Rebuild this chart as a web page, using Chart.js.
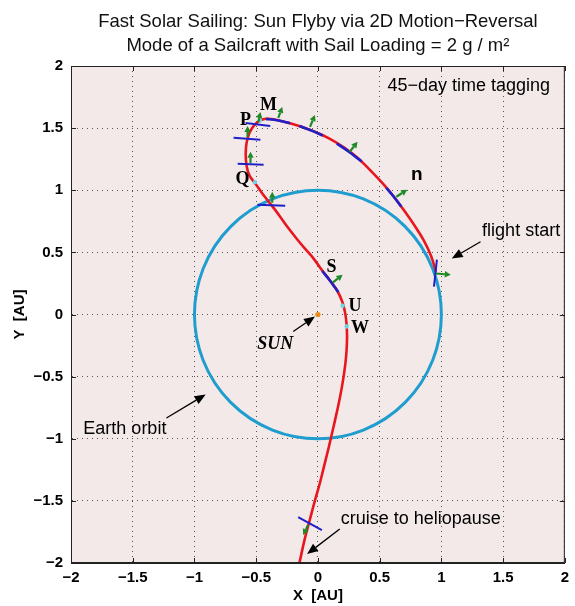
<!DOCTYPE html>
<html>
<head>
<meta charset="utf-8">
<script src="https://cdn.jsdelivr.net/npm/chart.js@4.4.0/dist/chart.umd.min.js"></script>
<style>
  html, body { margin: 0; padding: 0; background: #fff; }
  #wrap { position: relative; width: 575px; height: 606px; }
</style>
</head>
<body>
<div id="wrap"><canvas id="orbitChart"></canvas></div>
<script>
// trajectory of the sailcraft, from flight start to the cruise leg (AU)
const trajX = [0.956, 0.915, 0.855, 0.78, 0.70, 0.615, 0.525, 0.43, 0.325, 0.21, 0.09, -0.035, -0.165, -0.29, -0.40,
    -0.46, -0.515, -0.555, -0.578, -0.585, -0.578, -0.555, -0.50, -0.455, -0.40, -0.345, -0.29, -0.235, -0.172, -0.105,
    -0.035, 0.03, 0.10, 0.16, 0.20, 0.222, 0.232, 0.236, 0.232, 0.222, 0.205, 0.18, 0.15, 0.118, 0.085, 0.05, 0.015,
    -0.025, -0.065, -0.105, -0.15];
const trajY = [0.345, 0.475, 0.60, 0.72, 0.835, 0.948, 1.055, 1.155, 1.258, 1.345, 1.418, 1.475, 1.522, 1.556, 1.576,
    1.565, 1.525, 1.46, 1.38, 1.29, 1.20, 1.12, 1.045, 0.98, 0.91, 0.84, 0.765, 0.69, 0.61, 0.53,
    0.45, 0.36, 0.27, 0.185, 0.095, 0.005, -0.08, -0.18, -0.29, -0.40, -0.52, -0.66, -0.80, -0.94, -1.08, -1.22, -1.36,
    -1.50, -1.65, -1.80, -2.0];

// blue arcs along the trajectory
const arcX = [[-0.42, -0.33, -0.225], [-0.15, -0.05, 0.04], [0.153, 0.25, 0.354], [0.554, 0.615, 0.675], [0.035, 0.10, 0.165]];
const arcY = [[1.574, 1.563, 1.54], [1.517, 1.48, 1.44], [1.375, 1.31, 1.232], [1.02, 0.948, 0.868], [0.35, 0.27, 0.18]];

// 45-day time tags (blue cross bars)
const tagX1 = [0.964, -0.586, -0.683, -0.65, -0.49, -0.16];
const tagY1 = [0.442, 1.542, 1.422, 1.213, 0.884, -1.63];
const tagX2 = [0.94, -0.386, -0.466, -0.44, -0.265, 0.032];
const tagY2 = [0.225, 1.518, 1.406, 1.205, 0.875, -1.735];

// sail normal vectors (green arrows)
const sailTailX = [0.956, 0.635, 0.257, -0.064, -0.321, -0.482, -0.57, -0.546, -0.37, 0.12, -0.08];
const sailTailY = [0.33, 0.948, 1.309, 1.51, 1.582, 1.55, 1.43, 1.22, 0.90, 0.257, -1.695];
const sailHeadX = [1.076, 0.723, 0.321, -0.024, -0.289, -0.466, -0.57, -0.546, -0.37, 0.20, -0.12];
const sailHeadY = [0.32, 1.004, 1.39, 1.606, 1.671, 1.63, 1.518, 1.31, 0.988, 0.32, -1.775];

// cyan event markers on the trajectory
const markX = [-0.47, -0.51, 0.2, 0.233];
const markY = [1.562, 1.065, 0.07, -0.096];

const sunX = [0];
const sunY = [0];
const earthOrbitRadius = 1.0;

// point labels
const ptText = ['P', 'M', 'Q', 'S', 'U', 'W'];
const ptX = [-0.586, -0.40, -0.61, 0.11, 0.30, 0.34];
const ptY = [1.566, 1.68, 1.09, 0.38, 0.064, -0.11];

// annotations
const noteText = ['flight start', 'Earth orbit', 'cruise to heliopause', '45\u2212day time tagging'];
const noteX = [1.33, -1.90, 0.185, 1.88];
const noteY = [0.675, -0.924, -1.647, 1.84];
const noteAlign = ['left', 'left', 'left', 'right'];

// black pointer arrows
const ptrTailX = [-0.2, 1.317, -1.227, 0.177];
const ptrTailY = [-0.137, 0.586, -0.833, -1.727];
const ptrHeadX = [-0.024, 1.084, -0.909, -0.088];
const ptrHeadY = [-0.016, 0.45, -0.644, -1.928];

const axisTicks = [-2, -1.5, -1, -0.5, 0, 0.5, 1, 1.5, 2];
const titleLines = ['Fast Solar Sailing: Sun Flyby via 2D Motion\u2212Reversal', 'Mode of a Sailcraft with Sail Loading = 2 g / m\u00b2'];

const RED = '#e8161e';
const BLUE = '#2020c8';
const GREEN = '#1d8a24';
const CYAN = '#1f9dcf';

const pts = (xs, ys) => xs.map((x, i) => ({ x, y: ys[i] }));
const lineSet = (data, color, width, extra) => Object.assign({
    data, showLine: true, borderColor: color, borderWidth: width, pointRadius: 0, fill: false, tension: 0, order: 1
}, extra || {});

const datasets = [
    lineSet(pts(trajX, trajY), RED, 2.6, { tension: 0.4, order: 10 }),
    ...arcX.map((xs, i) => lineSet(pts(xs, arcY[i]), BLUE, 2.6, { tension: 0.3, order: 5 })),
    ...tagX1.map((x, i) => lineSet([{ x, y: tagY1[i] }, { x: tagX2[i], y: tagY2[i] }], BLUE, 2)),
    { data: pts(markX, markY), pointRadius: 2.2, pointBackgroundColor: '#6fd3e6', pointBorderWidth: 0, showLine: false, order: 0 },
    { data: pts(sunX, sunY), pointRadius: 2.6, pointBackgroundColor: '#e88a1c', pointBorderWidth: 0, showLine: false, order: 0 }
];

function drawArrow(ctx, x1, y1, x2, y2, color, width, headLen, headW) {
    const ang = Math.atan2(y2 - y1, x2 - x1);
    const bx = x2 - headLen * Math.cos(ang), by = y2 - headLen * Math.sin(ang);
    ctx.strokeStyle = color;
    ctx.fillStyle = color;
    ctx.lineWidth = width;
    ctx.beginPath();
    ctx.moveTo(x1, y1);
    ctx.lineTo(bx, by);
    ctx.stroke();
    ctx.beginPath();
    ctx.moveTo(x2, y2);
    ctx.lineTo(bx + headW * Math.sin(ang), by - headW * Math.cos(ang));
    ctx.lineTo(bx - headW * Math.sin(ang), by + headW * Math.cos(ang));
    ctx.closePath();
    ctx.fill();
}

const backdrop = {
    id: 'backdrop',
    beforeDraw(chart) {
        const { ctx, chartArea: a } = chart;
        ctx.save();
        ctx.fillStyle = '#f4e9e9';
        ctx.fillRect(a.left, a.top, a.right - a.left, a.bottom - a.top);
        ctx.restore();
    },
    beforeDatasetsDraw(chart) {
        // Earth orbit circle, radius in AU mapped through the scales
        const { ctx, chartArea: a, scales: { x, y } } = chart;
        const cx = x.getPixelForValue(sunX[0]), cy = y.getPixelForValue(sunY[0]);
        const rx = x.getPixelForValue(sunX[0] + earthOrbitRadius) - cx;
        const ry = cy - y.getPixelForValue(sunY[0] + earthOrbitRadius);
        ctx.save();
        ctx.beginPath();
        ctx.rect(a.left, a.top, a.right - a.left, a.bottom - a.top);
        ctx.clip();
        ctx.strokeStyle = CYAN;
        ctx.lineWidth = 3;
        ctx.beginPath();
        ctx.ellipse(cx, cy, rx, ry, 0, 0, Math.PI * 2);
        ctx.stroke();
        ctx.restore();
    },
    afterDatasetsDraw(chart) {
        const { ctx, scales: { x, y } } = chart;
        ctx.save();
        sailTailX.forEach((tx, i) => {
            drawArrow(ctx, x.getPixelForValue(tx), y.getPixelForValue(sailTailY[i]),
                x.getPixelForValue(sailHeadX[i]), y.getPixelForValue(sailHeadY[i]), GREEN, 2.2, 6, 3.2);
        });
        ptrTailX.forEach((tx, i) => {
            drawArrow(ctx, x.getPixelForValue(tx), y.getPixelForValue(ptrTailY[i]),
                x.getPixelForValue(ptrHeadX[i]), y.getPixelForValue(ptrHeadY[i]), '#000', 1.3, 11, 4.5);
        });

        ctx.fillStyle = '#000';
        ctx.textBaseline = 'middle';
        ctx.textAlign = 'center';
        ctx.font = 'bold 18px "Liberation Serif", serif';
        ptText.forEach((t, i) => ctx.fillText(t, x.getPixelForValue(ptX[i]), y.getPixelForValue(ptY[i])));
        ctx.font = 'bold 19px "Liberation Sans", sans-serif';
        ctx.fillText('n', x.getPixelForValue(0.80), y.getPixelForValue(1.124));
        ctx.font = 'italic bold 18px "Liberation Serif", serif';
        ctx.fillText('SUN', x.getPixelForValue(-0.345), y.getPixelForValue(-0.24));

        ctx.font = '18px "Liberation Sans", sans-serif';
        noteText.forEach((t, i) => {
            ctx.textAlign = noteAlign[i];
            ctx.fillText(t, x.getPixelForValue(noteX[i]), y.getPixelForValue(noteY[i]));
        });
        ctx.restore();
    },
    afterDraw(chart) {
        const { ctx, chartArea: a, scales: { x, y } } = chart;
        ctx.save();
        ctx.strokeStyle = '#222';
        ctx.lineWidth = 1;
        ctx.strokeRect(a.left + 0.5, a.top + 0.5, a.right - a.left - 1, a.bottom - a.top - 1);
        ctx.beginPath();
        axisTicks.forEach(v => {
            const px = Math.round(x.getPixelForValue(v)) + 0.5;
            ctx.moveTo(px, a.bottom); ctx.lineTo(px, a.bottom - 5);
            ctx.moveTo(px, a.top); ctx.lineTo(px, a.top + 5);
            const py = Math.round(y.getPixelForValue(v)) + 0.5;
            ctx.moveTo(a.left, py); ctx.lineTo(a.left + 5, py);
            ctx.moveTo(a.right, py); ctx.lineTo(a.right - 5, py);
        });
        ctx.stroke();

        ctx.fillStyle = '#111';
        ctx.textAlign = 'center';
        ctx.textBaseline = 'middle';
        ctx.font = '18.5px "Liberation Sans", sans-serif';
        const cx = (a.left + a.right) / 2;
        ctx.fillText(titleLines[0], cx, 22);
        ctx.fillText(titleLines[1], cx, 46);
        ctx.restore();
    }
};

const tickFmt = v => String(v).replace('-', '\u2212');
const tickFont = { family: '"Liberation Sans", sans-serif', size: 15, weight: 'bold' };
const gridOpts = { color: '#555', lineWidth: 1, drawTicks: false };

new Chart(document.getElementById('orbitChart'), {
    type: 'scatter',
    data: { datasets },
    options: {
        responsive: true,
        maintainAspectRatio: false,
        animation: false,
        layout: { padding: { top: 66, right: 7, left: 0, bottom: 0 } },
        plugins: { legend: { display: false }, tooltip: { enabled: false } },
        scales: {
            x: {
                type: 'linear', min: -2, max: 2,
                afterBuildTicks: s => { s.ticks = axisTicks.map(v => ({ value: v })); },
                afterFit: s => { s.height = 43; },
                ticks: { callback: tickFmt, color: '#000', font: tickFont, padding: 6, maxRotation: 0 },
                grid: gridOpts,
                border: { display: true, color: '#222', dash: [1, 4] },
                title: { display: true, text: 'X  [AU]', color: '#000', font: tickFont, padding: { top: 0, bottom: 1 } }
            },
            y: {
                type: 'linear', min: -2, max: 2,
                afterBuildTicks: s => { s.ticks = axisTicks.map(v => ({ value: v })); },
                afterFit: s => { s.width = 71; },
                ticks: { callback: tickFmt, color: '#000', font: tickFont, padding: 8 },
                grid: gridOpts,
                border: { display: true, color: '#222', dash: [1, 4] },
                title: { display: true, text: 'Y  [AU]', color: '#000', font: tickFont, padding: { top: 11, bottom: 0 } }
            }
        }
    },
    plugins: [backdrop]
});
</script>
</body>
</html>
